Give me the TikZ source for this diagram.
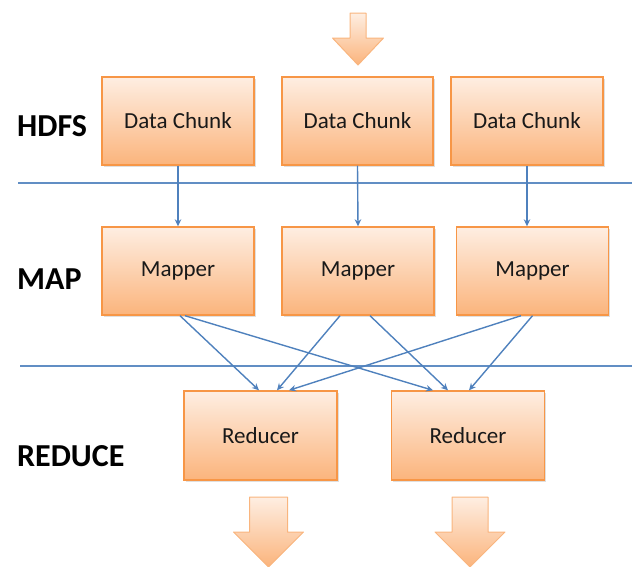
\documentclass[tikz,border=0pt]{standalone}
\usepackage{fontspec}
\setmainfont{Carlito}
\usetikzlibrary{arrows.meta,shadows}
\definecolor{orangeedge}{HTML}{F79646}
\definecolor{peachtop}{HTML}{FEEEE2}
\definecolor{peachbot}{HTML}{FBB47C}
\definecolor{lineblue}{HTML}{4F81BD}
\tikzset{
  box/.style={draw=orangeedge, line width=1.4pt, top color=peachtop, bottom color=peachbot,
    minimum width=152pt, minimum height=88pt, inner sep=0pt,
    font=\fontsize{23}{26}\selectfont, text=black!90,
    drop shadow={opacity=0.25, shadow xshift=1.5pt, shadow yshift=-1.5pt}},
  flow/.style={draw=lineblue, line width=1.4pt, -{Stealth[length=7pt,width=6.5pt]}},
  sepline/.style={draw=lineblue!90, line width=1.6pt},
  stage/.style={anchor=west, font=\fontsize{32}{36}\selectfont\bfseries, inner sep=0pt},
  blockarrow/.style={draw=orangeedge!70, line width=1pt, top color=peachtop, bottom color=peachbot, line join=round}
}
\begin{document}
\begin{tikzpicture}[x=1pt,y=-1pt]
\useasboundingbox (0,0) rectangle (635,566);

% separator lines
\coordinate (s1a) at (18,183);
\coordinate (s1b) at (632,183);
\coordinate (s2a) at (20,366);
\coordinate (s2b) at (632,366);
\draw[sepline] (s1a) -- (s1b);
\draw[sepline] (s2a) -- (s2b);

% stage labels
\node[stage] (hdfs) at (17,126) {HDFS};
\node[stage] (map) at (17,279) {MAP};
\node[stage] (reduce) at (17,456) {REDUCE};

% top input arrow
\path[blockarrow] (350,13) -- (366,13) -- (366,38) -- (383.5,38) -- (358,65) -- (332.5,38) -- (350,38) -- cycle;

% boxes
\node[box] (d1) at (178,121) {Data Chunk};
\node[box, minimum width=151pt] (d2) at (357.5,121) {Data Chunk};
\node[box] (d3) at (527,121) {Data Chunk};

\node[box] (m1) at (178,271) {Mapper};
\node[box] (m2) at (358,271) {Mapper};
\node[box] (m3) at (532.5,271) {Mapper};

\node[box, minimum width=153pt, minimum height=89pt] (r1) at (260.5,435.5) {Reducer};
\node[box, minimum width=153pt, minimum height=89pt] (r2) at (468,435.5) {Reducer};

% output arrows
\path[blockarrow] (249.5,497) -- (287.5,497) -- (287.5,532) -- (303.5,532) -- (268.5,567) -- (233.5,532) -- (249.5,532) -- cycle;
\path[blockarrow] (452,497) -- (488,497) -- (488,532) -- (505,532) -- (470,567) -- (435,532) -- (452,532) -- cycle;

% chunk to mapper
\draw[flow] (d1.south) -- (m1.north);
\draw[flow] (d2.south) -- (m2.north);
\draw[flow] (d3.south) -- ([xshift=-5.5pt]m3.north);

% mapper to reducer
\draw[flow] ([xshift=2pt]m1.south) -- ([xshift=-1.5pt]r1.north);
\draw[flow] ([xshift=7pt]m1.south) -- ([xshift=-35pt]r2.north);
\draw[flow] ([xshift=-18pt]m2.south) -- ([xshift=16.5pt]r1.north);
\draw[flow] ([xshift=12pt]m2.south) -- ([xshift=-20pt]r2.north);
\draw[flow] ([xshift=-11.5pt]m3.south) -- ([xshift=28.5pt]r1.north);
\draw[flow] ([xshift=0pt]m3.south) -- ([xshift=1pt]r2.north);
\end{tikzpicture}
\end{document}
